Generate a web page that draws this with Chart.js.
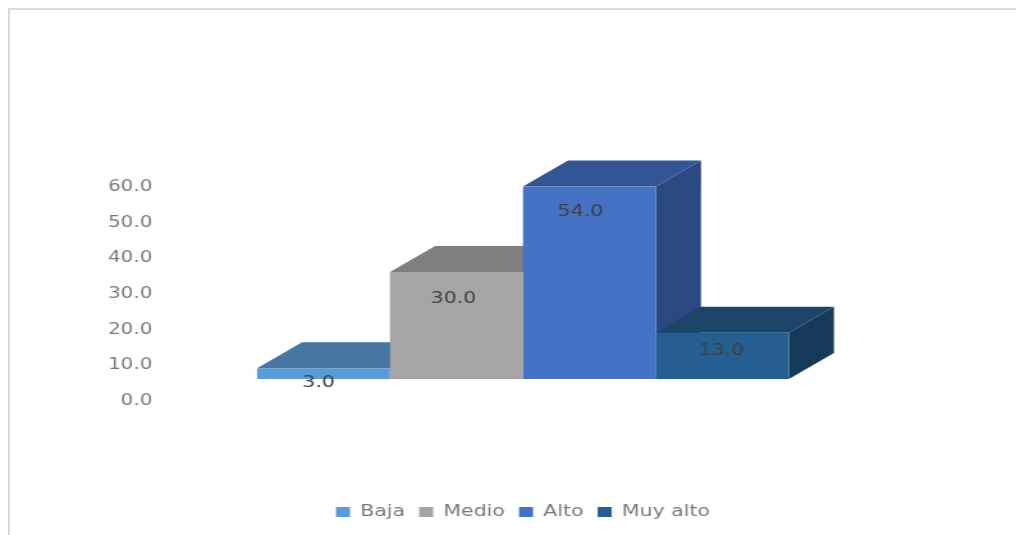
<!DOCTYPE html>
<html>
<head>
<meta charset="utf-8">
<style>
html,body{margin:0;padding:0;background:#fff;overflow:hidden;width:1016px;height:535px}
#frame{position:absolute;left:8px;top:8px;right:0;bottom:0;border-top:2px solid #d9d9d9;border-left:2px solid #d9d9d9}
/* the original picture is a chart stretched sideways, so the canvas is too */
canvas{position:absolute;left:0;top:0;transform-origin:0 0;transform:scaleX(1.2796);filter:blur(0.4px)}
</style>
<script src="https://cdn.jsdelivr.net/npm/chart.js@4"></script>
</head>
<body>
<canvas id="chart" width="794" height="535"></canvas>
<div id="frame"></div>
<script>
const categories = ['']
const seriesNames = ['Baja','Medio','Alto','Muy alto']
const seriesValues = [3,30,54,13]
const tickValues = [0,10,20,30,40,50,60]

const frontColors = ['#5b9bd5','#a5a5a5','#4472c4','#255e91']
const topColors = ['#4676a1','#7f7f7f','#335593','#1c4569']
const sideColors = ['#3d6a92','#6f6f6f','#2a4980','#163a5a']
// label nudges from the middle top of each bar, in page pixels
const labelNudgeX = [-5,-3,-9,-1]
const labelNudgeY = [15,27,25,18]

const stretch = 1016/794
const depthX = 45/stretch
const depthY = 26
const liftY = 22

function face(ctx,color,pts){
    ctx.fillStyle = color
    ctx.beginPath()
    ctx.moveTo(pts[0][0],pts[0][1])
    for(var i = 1;i<pts.length;i++){
        ctx.lineTo(pts[i][0],pts[i][1])
    }
    ctx.closePath()
    ctx.fill()
}

const boxPlugin = {
    id:'box3d',
    beforeDatasetsDraw(chart){
        const ctx = chart.ctx
        ctx.save()
        ctx.translate(0,-liftY)
        chart.data.datasets.forEach((ds,i) => {
            const el = chart.getDatasetMeta(i).data[0]
            const l = el.x-el.width/2
            const r = el.x+el.width/2
            face(ctx,sideColors[i],[[r,el.y],[r+depthX,el.y-depthY],[r+depthX,el.base-depthY],[r,el.base]])
            face(ctx,topColors[i],[[l,el.y],[l+depthX,el.y-depthY],[r+depthX,el.y-depthY],[r,el.y]])
        })
    },
    afterDatasetsDraw(chart){
        const ctx = chart.ctx
        ctx.restore()
        ctx.save()
        ctx.font = '16px "DejaVu Sans"'
        ctx.fillStyle = '#404040'
        ctx.textAlign = 'center'
        ctx.textBaseline = 'middle'
        chart.data.datasets.forEach((ds,i) => {
            const el = chart.getDatasetMeta(i).data[0]
            ctx.fillText(seriesValues[i].toFixed(1),el.x+labelNudgeX[i]/stretch,el.y-liftY+labelNudgeY[i])
        })
        ctx.restore()
    }
}

new Chart(document.getElementById('chart'),{
    type:'bar',
    data:{
        labels:categories,
        datasets:seriesNames.map((name,i) => ({
            label:name,
            data:[seriesValues[i]],
            backgroundColor:frontColors[i],
            borderWidth:0,
            barPercentage:1,
            categoryPercentage:0.73,
            clip:false
        }))
    },
    options:{
        responsive:false,
        animation:false,
        layout:{padding:{left:23.4,right:0,top:187,bottom:5}},
        scales:{
            x:{
                ticks:{display:false},
                grid:{display:false},
                border:{display:false},
                afterFit(scale){scale.height = 92}
            },
            y:{
                min:0,
                max:60,
                afterBuildTicks(scale){scale.ticks = tickValues.map(v => ({value:v}))},
                ticks:{
                    padding:5,
                    color:'#7a7a7a',
                    font:{family:'"DejaVu Sans"',size:15.5},
                    callback:v => v.toFixed(1)
                },
                grid:{display:false,drawTicks:false},
                border:{display:false},
                afterFit(scale){scale.width = 100.6}
            },
            // empty axis on the right, keeps the plot centred over the legend
            spacer:{
                axis:'y',
                position:'right',
                ticks:{display:false},
                grid:{display:false,drawTicks:false},
                border:{display:false},
                afterFit(scale){scale.width = 100.6}
            }
        },
        plugins:{
            legend:{
                position:'bottom',
                labels:{
                    boxWidth:11,
                    boxHeight:10,
                    padding:11,
                    color:'#7a7a7a',
                    font:{family:'"DejaVu Sans"',size:16}
                }
            },
            tooltip:{enabled:false}
        }
    },
    plugins:[boxPlugin]
})
</script>
</body>
</html>
